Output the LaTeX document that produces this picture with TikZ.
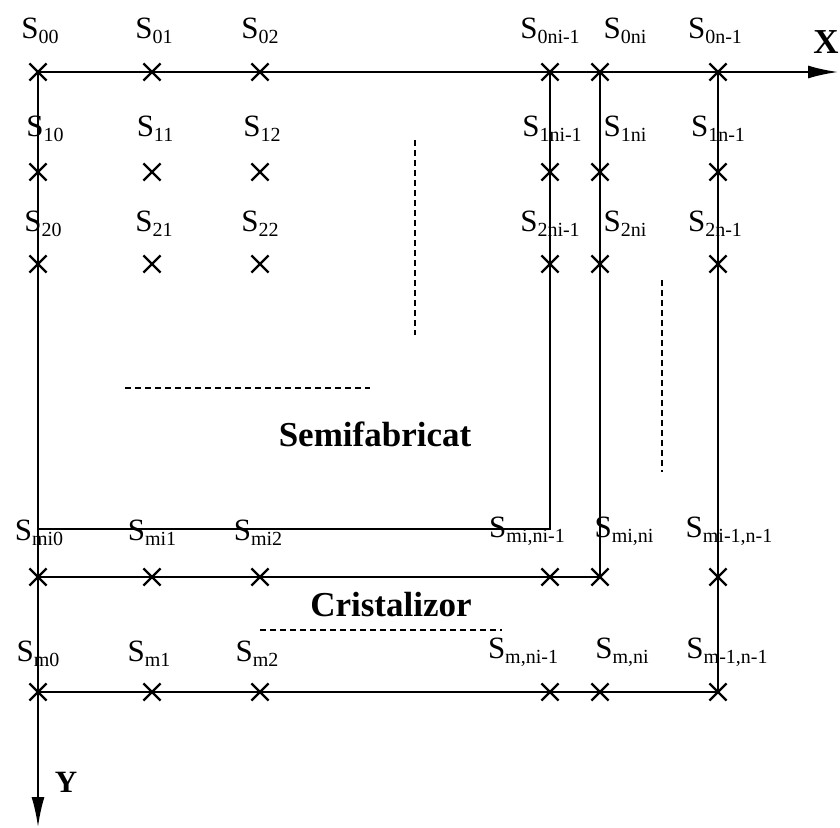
\documentclass[tikz,border=0pt]{standalone}
\usepackage{fontspec}
\setmainfont{Liberation Serif}
\usetikzlibrary{arrows.meta, positioning, shapes.misc}
\newcommand{\sidx}[1]{\raisebox{-0.3ex}{\fontsize{20}{20}\selectfont #1}}

\begin{document}
\begin{tikzpicture}[
        x=1pt, y=-1pt,
        node distance=20pt,
        xmark/.style={cross out, draw, line width=2.2pt, minimum size=15pt, inner sep=0pt},
        edge/.style={line width=2pt},
        axis/.style={line width=2pt, -{Latex[length=30pt, width=13pt]}},
        guide/.style={dashed, line width=1.2pt, dash pattern=on 6pt off 4pt},
        lbl/.style={font=\fontsize{31}{31}\selectfont, inner sep=0pt},
        title/.style={font=\fontsize{35}{35}\selectfont\bfseries, inner sep=0pt}
    ]
        \useasboundingbox (0,0) rectangle (840,827);

        % Grid points
        \foreach \r/\y in {0/72, 1/172, 2/264, 3/577, 4/692}
            \foreach \c/\x in {0/38, 1/152, 2/260, 3/550, 4/600, 5/718}
                \node[xmark] (c\r\c) at (\x,\y) {};

        % Axes
        \coordinate (xend) at (838,72);
        \coordinate (yend) at (38,827);
        \draw[axis] (c00.center) -- (xend);
        \draw[axis] (c00.center) -- (yend);
        \node[title] (xlab) at (826,42) {X};
        \node[title, font=\fontsize{31}{31}\selectfont\bfseries] (ylab) at (66,782) {Y};

        % Semifabricat
        \coordinate (sbr) at (550,529);
        \draw[edge] (c03.center) -- (sbr) -- (sbr -| c00.center);
        % Cristalizor
        \draw[edge] (c04.center) -- (c34.center) -- (c30.center);
        % Outer boundary
        \draw[edge] (c05.center) -- (c45.center) -- (c40.center);

        % Omitted points
        \draw[guide] (415,140) -- (415,335);
        \draw[guide] (125,388) -- (370,388);
        \draw[guide] (662,280) -- (662,472);
        \draw[guide] (260,630) -- (502,630);

        \node[title] (semi) at (375,434) {Semifabricat};
        \node[title] (crist) at (391,605) {Cristalizor};

        % Labels
        \foreach \c/\t/\dx in {0/00/2, 1/01/2, 2/02/0, 3/{0ni-1}/0, 4/0ni/25, 5/{0n-1}/-3}
            \node[lbl, above=of c0\c, xshift=\dx pt] {S\sidx{\t}};
        \foreach \c/\t/\dx in {0/10/7, 1/11/3, 2/12/2, 3/{1ni-1}/2, 4/1ni/25, 5/{1n-1}/0}
            \node[lbl, above=22pt of c1\c, xshift=\dx pt] {S\sidx{\t}};
        \foreach \c/\t/\dx in {0/20/5, 1/21/2, 2/22/0, 3/{2ni-1}/0, 4/2ni/25, 5/{2n-1}/-3}
            \node[lbl, above=19pt of c2\c, xshift=\dx pt] {S\sidx{\t}};
        \foreach \c/\t/\dx in {0/mi0/1, 1/mi1/0, 2/mi2/-2, 3/{mi,ni-1}/-23, 4/{mi,ni}/24, 5/{mi-1,n-1}/11}
            \node[lbl, above=23pt of c3\c, xshift=\dx pt] {S\sidx{\t}};
        \foreach \c/\t/\dx in {0/m0/0, 1/m1/-3, 2/m2/-3, 3/{m,ni-1}/-27, 4/{m,ni}/22, 5/{m-1,n-1}/9}
            \node[lbl, above=17pt of c4\c, xshift=\dx pt] {S\sidx{\t}};
    \end{tikzpicture}
\end{document}
